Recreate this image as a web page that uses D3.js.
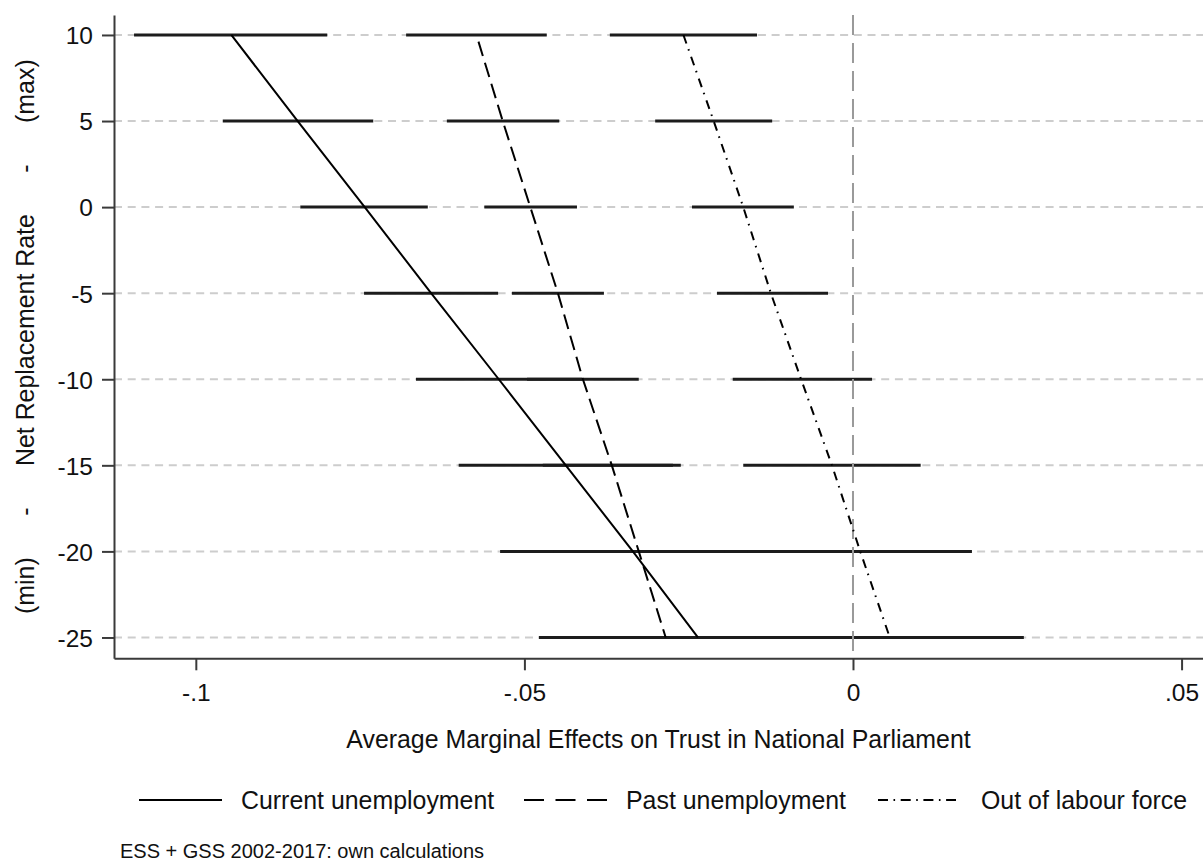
<!DOCTYPE html>
<html>
<head>
<meta charset="utf-8">
<script src="https://cdn.jsdelivr.net/npm/d3@7"></script>
<style>
  html, body { margin: 0; padding: 0; background: #ffffff; }
  svg { display: block; }
  text { font-family: "Liberation Sans", Arial, sans-serif; fill: #111; }
</style>
</head>
<body>
<div id="chart"></div>
<script>
// ---- data ----
const rows = [10, 5, 0, -5, -10, -15, -20, -25];

const currentEst = [-0.0946, -0.0845, -0.0743, -0.0642, -0.0539, -0.0437, -0.0335, -0.0236];
const currentLo  = [-0.1094, -0.0959, -0.0841, -0.0744, -0.0665, -0.0600, -0.0537, -0.0478];
const currentHi  = [-0.0800, -0.0730, -0.0647, -0.0540, -0.0412, -0.0274, -0.0132,  0.0006];

const pastEst = [-0.0573, -0.0533, -0.0491, -0.0449, -0.0411, -0.0367, -0.0326, -0.0285];
const pastLo  = [-0.0680, -0.0618, -0.0561, -0.0519, -0.0496, -0.0472, -0.0455, -0.0441];
const pastHi  = [-0.0466, -0.0447, -0.0420, -0.0379, -0.0326, -0.0262, -0.0196, -0.0128];

const outEst = [-0.0258, -0.0212, -0.0167, -0.0125, -0.0079, -0.0032, 0.0011, 0.0056];
const outLo  = [-0.0370, -0.0301, -0.0245, -0.0207, -0.0183, -0.0167, -0.0160, -0.0148];
const outHi  = [-0.0146, -0.0123, -0.0090, -0.0038,  0.0029,  0.0103, 0.0181, 0.0260];

const seriesNames = ["Current unemployment", "Past unemployment", "Out of labour force"];

const xTicks = [-0.1, -0.05, 0, 0.05];
const xTickLabels = ["-.1", "-.05", "0", ".05"];
const yTicks = rows;
const yTickLabels = ["10", "5", "0", "-5", "-10", "-15", "-20", "-25"];

const xTitle = "Average Marginal Effects on Trust in National Parliament";
const yTitle = "(min)      -      Net Replacement Rate      -      (max)";
const note = "ESS + GSS 2002-2017: own calculations";

// ---- layout ----
const W = 1203, H = 864;
const plot = { left: 114, right: 1203, top: 15, bottom: 658.3 };

const x = d3.scaleLinear().domain([-0.11245, 0.05326]).range([plot.left, plot.right]);
const y = d3.scaleLinear().domain([-26.21, 11.16]).range([plot.bottom, plot.top]);

const svg = d3.select("#chart").append("svg").attr("width", W).attr("height", H);

const FS = 24.9;

// grid lines
svg.append("g").selectAll("line").data(yTicks).join("line")
  .attr("x1", plot.left).attr("x2", plot.right)
  .attr("y1", d => y(d)).attr("y2", d => y(d))
  .attr("stroke", "#cdcdcd").attr("stroke-width", 2)
  .attr("stroke-dasharray", "8,5.7");

// series definitions
const series = [
  { name: seriesNames[0], est: currentEst, lo: currentLo, hi: currentHi, dash: null, legDash: null },
  { name: seriesNames[1], est: pastEst, lo: pastLo, hi: pastHi, dash: "15,7", offset: 15, legDash: "20,11.5" },
  { name: seriesNames[2], est: outEst, lo: outLo, hi: outHi, dash: "9,6,1.6,6.5", legDash: "10,5.5,1.6,5.6" }
];

// CI bars
const ciG = svg.append("g");
series.forEach(s => {
  ciG.append("g").selectAll("line").data(rows).join("line")
    .attr("x1", (d, i) => x(s.lo[i])).attr("x2", (d, i) => x(s.hi[i]))
    .attr("y1", d => y(d)).attr("y2", d => y(d))
    .attr("stroke", "#1c1c1c").attr("stroke-width", 3);
});

// zero reference line
svg.append("line")
  .attr("x1", x(0)).attr("x2", x(0))
  .attr("y1", plot.top).attr("y2", plot.bottom)
  .attr("stroke", "#9a9a9a").attr("stroke-width", 2)
  .attr("stroke-dasharray", "20,8");

// connecting lines
const lineGen = (s) => d3.line().x((d, i) => x(s.est[i])).y(d => y(d));
series.forEach(s => {
  svg.append("path").datum(rows)
    .attr("d", lineGen(s))
    .attr("fill", "none").attr("stroke", "#000").attr("stroke-width", 2)
    .attr("stroke-dasharray", s.dash)
    .attr("stroke-dashoffset", s.offset || 0);
});

// axes
const xAxis = svg.append("g")
  .attr("transform", `translate(0,${plot.bottom})`)
  .call(d3.axisBottom(x).tickValues(xTicks).tickFormat((d, i) => xTickLabels[i])
        .tickSize(12).tickSizeOuter(0).tickPadding(13));
const yAxis = svg.append("g")
  .attr("transform", `translate(${plot.left},0)`)
  .call(d3.axisLeft(y).tickValues(yTicks).tickFormat((d, i) => yTickLabels[i])
        .tickSize(12).tickSizeOuter(0).tickPadding(9));

[xAxis, yAxis].forEach(g => {
  g.attr("font-family", null).attr("font-size", null);
  g.select(".domain").attr("stroke", "#3a3a3a").attr("stroke-width", 2);
  g.selectAll(".tick line").attr("stroke", "#3a3a3a").attr("stroke-width", 2);
  g.selectAll(".tick text").attr("fill", "#111").style("font-size", "24.5px");
});
yAxis.selectAll(".tick text").attr("dy", "0.36em");
xAxis.selectAll(".tick text").attr("dy", "0.71em");

// axis titles
svg.append("text")
  .attr("x", (plot.left + plot.right) / 2).attr("y", 748)
  .attr("text-anchor", "middle").style("font-size", FS + "px")
  .text(xTitle);

svg.append("text")
  .attr("transform", `translate(34,${(plot.top + plot.bottom) / 2}) rotate(-90)`)
  .attr("text-anchor", "middle").style("font-size", FS + "px")
  .style("white-space", "pre")
  .text(yTitle);

// legend
const legendY = 800;
const legendItems = [
  { x0: 139, x1: 222, tx: 241 },
  { x0: 524, x1: 607, tx: 626 },
  { x0: 878, x1: 956, tx: 981 }
];
const leg = svg.append("g");
series.forEach((s, i) => {
  const p = legendItems[i];
  leg.append("line")
    .attr("x1", p.x0).attr("x2", p.x1).attr("y1", legendY).attr("y2", legendY)
    .attr("stroke", "#000").attr("stroke-width", 2.2)
    .attr("stroke-dasharray", s.legDash);
  leg.append("text")
    .attr("x", p.tx).attr("y", legendY + 9)
    .style("font-size", FS + "px")
    .text(s.name);
});

// note
svg.append("text")
  .attr("x", 120).attr("y", 858)
  .style("font-size", "20px")
  .text(note);
</script>
</body>
</html>
